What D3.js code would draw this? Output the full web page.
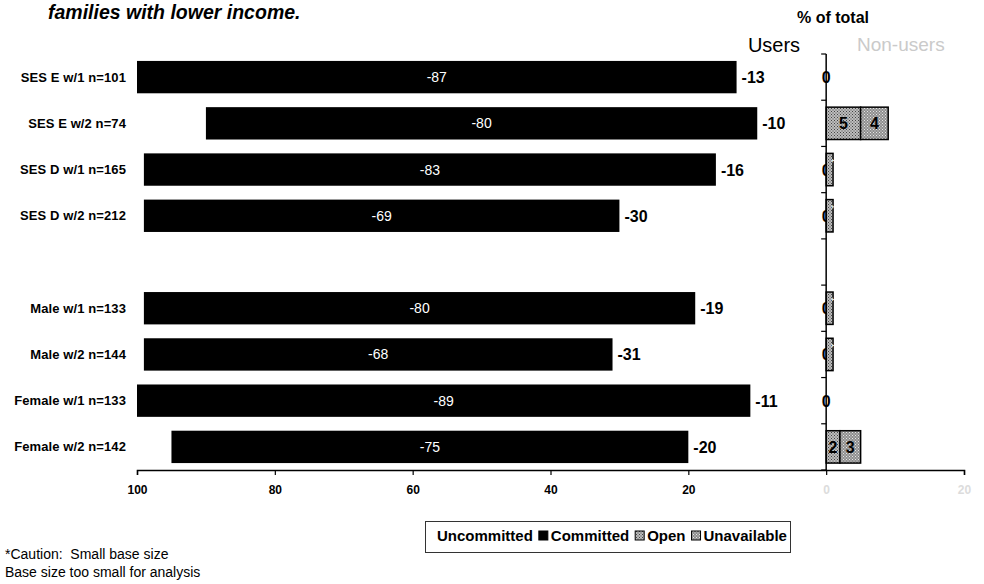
<!DOCTYPE html>
<html>
<head>
<meta charset="utf-8">
<script src="https://cdn.jsdelivr.net/npm/d3@7"></script>
<style>
  html, body { margin: 0; padding: 0; background: #fff; }
  svg { display: block; font-family: "Liberation Sans", Arial, sans-serif; }
  .note { white-space: pre; }
</style>
</head>
<body>
<svg id="chart" width="984" height="584"></svg>
<script>
// Row labels, top to bottom (a spacer row separates the SES and gender groups)
const rowLabels = ["SES E w/1 n=101", "SES E w/2 n=74", "SES D w/1 n=165", "SES D w/2 n=212",
                   "Male w/1 n=133", "Male w/2 n=144", "Female w/1 n=133", "Female w/2 n=142"];
const groupBreakAfter = 4;

// Users (% of total, drawn to the left of zero)
const committed   = [-87, -80, -83, -69, -80, -68, -89, -75];
const uncommitted = [-13, -10, -16, -30, -19, -31, -11, -20];

// Non-users (% of total, drawn to the right of zero)
const open        = [0, 5, 1, 1, 1, 1, 0, 2];
const unavailable = [0, 4, 0, 0, 0, 0, 0, 3];

const axisTicks = [-100, -80, -60, -40, -20, 0, 20];
const legendItems = ["Uncommitted", "Committed", "Open", "Unavailable"];

const svg = d3.select("#chart");
const defs = svg.append("defs");

// stippled fills for the non-user segments
function stipple(id, base, dot, step) {
  const p = defs.append("pattern").attr("id", id)
    .attr("patternUnits", "userSpaceOnUse").attr("width", step).attr("height", step);
  p.append("rect").attr("width", step).attr("height", step).attr("fill", base);
  p.append("rect").attr("x", 0).attr("y", 0).attr("width", 1).attr("height", 1).attr("fill", dot);
  p.append("rect").attr("x", step / 2).attr("y", step / 2).attr("width", 1).attr("height", 1).attr("fill", dot);
}
stipple("fillOpen", "#bdbdbd", "#444", 3);
stipple("fillUnavail", "#8e8e8e", "#e6e6e6", 3);

// scales
const x = d3.scaleLinear().domain([-100, 20]).range([137, 964]);
const rowKeys = [];
rowLabels.forEach((l, i) => { if (i === groupBreakAfter) rowKeys.push("__gap"); rowKeys.push(l); });
const y = d3.scaleBand().domain(rowKeys).range([54, 470]).paddingInner(0.3).paddingOuter(0.15);
const bh = y.bandwidth();

const rows = rowLabels.map((label, i) => ({
  label, committed: committed[i], uncommitted: uncommitted[i],
  open: open[i], unavailable: unavailable[i]
}));

// title fragment
svg.append("text").attr("x", 48).attr("y", 19)
  .attr("font-size", 19.5).attr("font-weight", "bold").attr("font-style", "italic")
  .text("families with lower income.");

// header
svg.append("text").attr("x", 833).attr("y", 23).attr("text-anchor", "middle")
  .attr("font-size", 16).attr("font-weight", "bold").text("% of total");
svg.append("text").attr("x", 774).attr("y", 52).attr("text-anchor", "middle")
  .attr("font-size", 20).text("Users");
svg.append("text").attr("x", 857).attr("y", 51)
  .attr("font-size", 19).attr("fill", "#cacaca").text("Non-users");

// row labels
svg.append("g").selectAll("text").data(rows).join("text")
  .attr("x", 126).attr("y", d => y(d.label) + bh / 2 + 4.5)
  .attr("text-anchor", "end").attr("font-size", 13).attr("font-weight", "bold")
  .attr("letter-spacing", 0.1)
  .text(d => d.label);

// committed bars (black), stacked outside the uncommitted share
const users = svg.append("g");
users.selectAll("rect").data(rows).join("rect")
  .attr("x", d => x(d.uncommitted + d.committed))
  .attr("width", d => x(d.uncommitted) - x(d.uncommitted + d.committed))
  .attr("y", d => y(d.label)).attr("height", bh)
  .attr("fill", "#000");
users.selectAll("text.c").data(rows).join("text").attr("class", "c")
  .attr("x", d => (x(d.uncommitted + d.committed) + x(d.uncommitted)) / 2)
  .attr("y", d => y(d.label) + bh / 2 + 5)
  .attr("text-anchor", "middle").attr("font-size", 14).attr("fill", "#fff")
  .text(d => d.committed);
// uncommitted share (white segment, labelled)
users.selectAll("text.u").data(rows).join("text").attr("class", "u")
  .attr("x", d => x(d.uncommitted) + 5)
  .attr("y", d => y(d.label) + bh / 2 + 6)
  .attr("font-size", 16).attr("font-weight", "bold")
  .text(d => d.uncommitted);

// non-users: zero-value labels sit on the axis
const nonUsers = svg.append("g");
nonUsers.selectAll("text.z").data(rows.filter(d => d.unavailable === 0)).join("text").attr("class", "z")
  .attr("x", x(0)).attr("y", d => y(d.label) + bh / 2 + 6)
  .attr("text-anchor", "middle").attr("font-size", 16).attr("font-weight", "bold")
  .text("0");

const segs = [];
rows.forEach(d => {
  if (d.open > 0) segs.push({ label: d.label, x0: 0, x1: d.open, v: d.open, fill: "url(#fillOpen)" });
  if (d.unavailable > 0) segs.push({ label: d.label, x0: d.open, x1: d.open + d.unavailable, v: d.unavailable, fill: "url(#fillUnavail)" });
});
nonUsers.selectAll("rect").data(segs).join("rect")
  .attr("x", d => x(d.x0)).attr("width", d => x(d.x1) - x(d.x0))
  .attr("y", d => y(d.label)).attr("height", bh)
  .attr("fill", d => d.fill).attr("stroke", "#000").attr("stroke-width", 1.5);
nonUsers.selectAll("text.s").data(segs).join("text").attr("class", "s")
  .each(function (d) {
    const cx = (x(d.x0) + x(d.x1)) / 2, cy = y(d.label) + bh / 2;
    const t = d3.select(this).text(d.v).attr("font-weight", "bold");
    if (x(d.x1) - x(d.x0) < 12) {
      t.attr("font-size", 7).attr("fill", "#fff").attr("text-anchor", "middle")
        .attr("transform", `translate(${cx + 2},${cy - 9}) rotate(90)`);
    } else {
      t.attr("font-size", 16).attr("fill", "#000").attr("text-anchor", "middle")
        .attr("x", cx).attr("y", cy + 6);
    }
  });

// zero axis with tick marks between rows
const zeroAxis = svg.append("g");
zeroAxis.append("line").attr("x1", x(0)).attr("x2", x(0)).attr("y1", 54).attr("y2", 470)
  .attr("stroke", "#000").attr("stroke-width", 1.5);
const step = y.step();
const bounds = d3.range(rowKeys.length + 1).map(k => y(rowKeys[0]) - y.paddingInner() * step / 2 + k * step);
zeroAxis.selectAll("line.t").data(bounds).join("line").attr("class", "t")
  .attr("x1", x(0) - 5).attr("x2", x(0)).attr("y1", d => d).attr("y2", d => d)
  .attr("stroke", "#000").attr("stroke-width", 1.2);

// bottom axis
const xAxis = d3.axisBottom(x).tickValues(axisTicks).tickSize(5).tickPadding(10)
  .tickFormat(d => Math.abs(d));
const gx = svg.append("g").attr("transform", "translate(0,470)").call(xAxis);
gx.select(".domain").attr("stroke", "#000").attr("stroke-width", 1.5);
gx.selectAll(".tick line").attr("stroke", "#000").attr("stroke-width", 1.2);
gx.selectAll(".tick text")
  .attr("font-family", "Liberation Sans, Arial, sans-serif")
  .attr("font-size", 12).attr("font-weight", "bold")
  .attr("fill", d => d >= 0 ? "#dcdcdc" : "#000");

// legend
const lg = svg.append("g");
lg.append("rect").attr("x", 425.5).attr("y", 521.5).attr("width", 365).attr("height", 31)
  .attr("fill", "#fff").attr("stroke", "#333").attr("stroke-width", 1);
const legendSwatch = { Uncommitted: null, Committed: "#000", Open: "url(#fillOpen)", Unavailable: "url(#fillUnavail)" };
let lx = 437;
legendItems.forEach(name => {
  const fill = legendSwatch[name];
  if (fill) {
    lg.append("rect").attr("x", lx).attr("y", 531).attr("width", 9).attr("height", 9)
      .attr("fill", fill).attr("stroke", "#000").attr("stroke-width", 1);
    lx += 12;
  }
  const t = lg.append("text").attr("x", lx).attr("y", 541)
    .attr("font-size", 15).attr("font-weight", "bold").text(name);
  lx += t.node().getComputedTextLength() + 6;
});

// footnotes
svg.append("text").attr("class", "note").attr("x", 5).attr("y", 559).attr("font-size", 14).text("*Caution:  Small base size");
svg.append("text").attr("class", "note").attr("x", 5).attr("y", 577).attr("font-size", 14).text("Base size too small for analysis");
</script>
</body>
</html>
